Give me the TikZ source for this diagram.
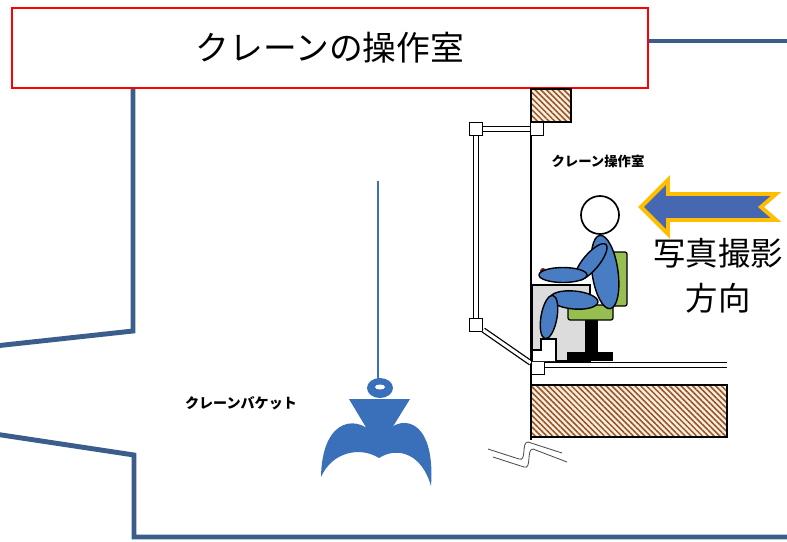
\documentclass[tikz,border=0pt]{standalone}
\usepackage{fontspec}
\setmainfont{Noto Sans CJK JP}
\usetikzlibrary{patterns.meta, positioning}
\definecolor{wallblue}{RGB}{58, 93, 140}
\definecolor{bodyblue}{RGB}{72, 125, 196}
\definecolor{seatgreen}{RGB}{150, 190, 80}
\definecolor{consolegray}{RGB}{220, 220, 220}
\definecolor{arrowgold}{RGB}{255, 190, 0}
\definecolor{arrowblue}{RGB}{70, 104, 178}
\definecolor{hatchbrown}{RGB}{150, 85, 40}
\definecolor{hatchbg}{RGB}{252, 238, 222}
\definecolor{bucketblue}{RGB}{58, 112, 185}
\definecolor{knobred}{RGB}{120, 30, 20}

\begin{document}
\begin{tikzpicture}[x=0.025cm, y=-0.025cm,
  wall/.style={draw=wallblue, line width=3.5pt},
  hatch/.style={draw, line width=0.8pt, preaction={fill=hatchbg}, pattern={Lines[angle=-45, distance=2.9pt, line width=1.1pt]}, pattern color=hatchbrown},
  frame/.style={draw, double, double distance=2.2pt, line width=0.9pt},
  joint/.style={draw, fill=white, line width=0.9pt, minimum size=9.5pt, inner sep=0pt},
  limb/.style={draw, line width=1pt, fill=bodyblue},
  seat/.style={draw, line width=0.9pt, fill=seatgreen, rounded corners=1.5pt},
  tagtext/.style={font=\bfseries\fontsize{10}{11}\selectfont, inner sep=1pt}
]
  \useasboundingbox (0,0) rectangle (787,541);

  % pit walls
  \draw[wall] (133,89) -- (133,331) -- (-5,346);
  \draw[wall] (-5,434) -- (134,455) -- (134,537) -- (792,537);

  \node[draw=red, line width=1.4pt, fill=white, minimum width=452pt, minimum height=57pt,
        font=\fontsize{24}{28}\selectfont] (title) at (330,48) {クレーンの操作室};
  \draw[wall] (title.east |- 0,41) -- (792,41);

  % cabin structure
  \draw[hatch] (531,89) rectangle (571,122);
  \draw[hatch] (531,385) rectangle (727,437);
  \draw[line width=1.1pt] (531,89) -- (531,440);
  \node[joint] (jtl) at (476,129) {};
  \node[joint] (jtr) at (537,129) {};
  \node[joint] (jbl) at (476,325) {};
  \node[joint] (jbr) at (538,368) {};
  \draw[frame] (jtl) -- (jtr);
  \draw[frame] (jtl) -- (jbl);
  \draw[frame] (jbl) -- (jbr);
  \draw[frame] (jbr.east |- 0,365) -- (727,365);

  \draw[gray!60!black, line width=0.6pt] (488,449) -- (519,459) .. controls (527,462) and (521,442) .. (528,442) -- (562,453);
  \draw[gray!60!black, line width=0.6pt] (493,457) -- (524,467) .. controls (532,470) and (526,449) .. (533,449) -- (567,462);

  % console and chair
  \draw[fill=consolegray, line width=0.8pt] (532,285) -- (590,285) -- (590,361) -- (532,361) -- cycle;
  \draw[fill=white, line width=0.8pt] (532,361) -- (532,350) -- (541,350) -- (541,339) -- (556,339) -- (556,361);
  \draw[seat] (612,252) rectangle (627,306);
  \fill (585,318) rectangle (598,354);
  \fill (567,352) rectangle (613,361);
  \draw[seat] (568,305) rectangle (613,320);

  % operator
  \draw[limb, rotate around={8:(605,272)}] (605,272) ellipse [x radius=13, y radius=37];
  \draw[limb, rotate around={-5:(574,300)}] (574,300) ellipse [x radius=24, y radius=9];
  \draw[limb, rotate around={-10:(549,317)}] (549,317) ellipse [x radius=8, y radius=22];
  \draw[limb, rotate around={50:(591,262)}] (591,262) ellipse [x radius=23, y radius=8];
  \fill[knobred] (543,271) circle [radius=3];
  \draw[limb] (563,275) ellipse [x radius=24, y radius=7.5];
  \draw[fill=white, line width=1.2pt] (600,215) circle [radius=19];

  \node[tagtext, font=\bfseries\fontsize{9.5}{11}\selectfont] (roomtag) at (598,161) {クレーン操作室};
  \node[tagtext] (buckettag) at (241,403) {クレーンバケット};
  \node[align=center, font=\fontsize{23}{32}\selectfont] (shotdir) at (718,276) {写真撮影\\方向};

  \draw[fill=arrowblue, draw=arrowgold, line width=2.8pt, line join=miter]
    (641,207) -- (668,180) -- (668,194) -- (776,194) -- (761,207) -- (776,220)
    -- (668,220) -- (668,234) -- cycle;

  % bucket
  \draw[bucketblue, line width=1.1pt] (378,181) -- (378,380);
  \fill[bucketblue] (380,388) ellipse [x radius=13, y radius=10];
  \fill[white] (380,387) ellipse [x radius=5, y radius=2.5];
  \fill[bucketblue] (349,399) -- (410,399) -- (379,449) -- cycle;
  \fill[bucketblue] (379,440) .. controls (360,412) and (322,416) .. (321,477)
    .. controls (332,452) and (360,446) .. (379,458) -- cycle;
  \fill[bucketblue] (379,440) .. controls (398,410) and (436,416) .. (431,486)
    .. controls (422,454) and (398,446) .. (379,458) -- cycle;
\end{tikzpicture}
\end{document}
